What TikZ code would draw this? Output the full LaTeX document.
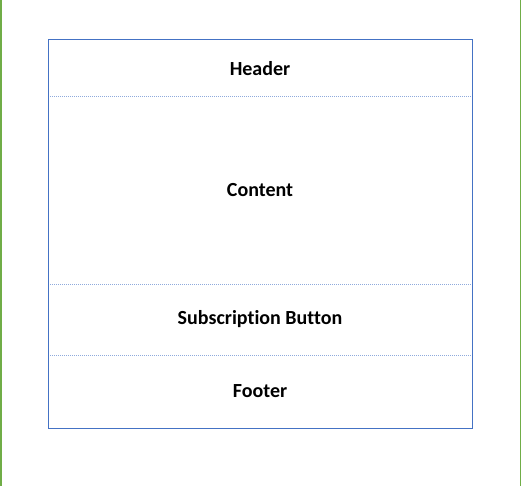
\documentclass[tikz,border=0pt]{standalone}
\usepackage{fontspec}
\setmainfont{Carlito}[Ligatures=NoCommon]
\usetikzlibrary{positioning}
\definecolor{frameblue}{HTML}{4472C4}
\definecolor{splitblue}{HTML}{8FAADC}
\definecolor{edgegreen}{HTML}{70AD47}
\tikzset{
    partbox/.style={minimum width=424pt, inner sep=0pt, outer sep=0pt,
        font=\bfseries\fontsize{20}{24}\selectfont},
    splitline/.style={splitblue, densely dotted, line width=1pt}
}

\begin{document}
\begin{tikzpicture}[x=1pt, y=-1pt, node distance=0pt]
\useasboundingbox (0,0) rectangle (521,486);
\draw[edgegreen, line width=1.5pt] (0.75,0) -- (0.75,486);
\draw[edgegreen, line width=1.5pt] (520.25,0) -- (520.25,486);
\node[partbox, minimum height=57pt, anchor=north west] (header) at (48,40) {Header};
\node[partbox, minimum height=187pt, below=of header] (content) {Content};
\node[partbox, minimum height=71pt, below=of content] (subscribe) {Subscription Button};
\node[partbox, minimum height=73pt, below=of subscribe] (footer) {Footer};
\draw[splitline] (header.south west) -- (header.south east);
\draw[splitline] (content.south west) -- (content.south east);
\draw[splitline] (subscribe.south west) -- (subscribe.south east);
\draw[frameblue, line width=1pt] (header.north west) rectangle (footer.south east);
\end{tikzpicture}
\end{document}
